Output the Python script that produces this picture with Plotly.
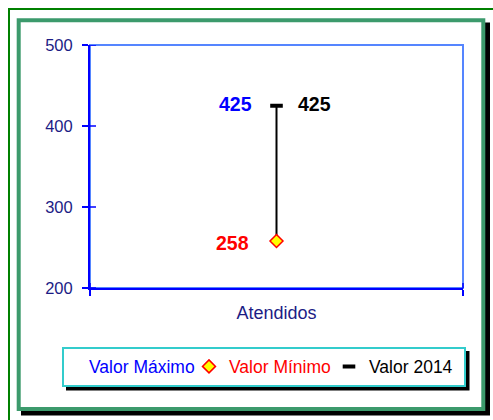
import plotly.graph_objects as go

# ---- data ----
categories = ["Atendidos"]
valor_maximo = [425]
valor_minimo = [258]
valor_2014 = [425]
y_ticks = [200, 300, 400, 500]

W, H = 493, 420
ML, MR, MT, MB = 90, 30, 45, 132
PW, PH = W - ML - MR, H - MT - MB

def px(x):
    return (x - ML) / PW

def py(y):
    return (H - MB - y) / PH

FONT = "Liberation Sans, Arial, sans-serif"
NAVY = "#1c1c85"
BLUE = "#0000ff"

fig = go.Figure()

# high-low line
fig.add_trace(go.Scatter(
    x=categories * 2, y=[valor_minimo[0], valor_maximo[0]],
    mode="lines", line=dict(color="black", width=2),
    showlegend=False, hoverinfo="skip"))

fig.add_trace(go.Scatter(
    x=categories, y=valor_maximo, mode="markers",
    name="<span style='color:#0000ff'>Valor Máximo</span>",
    legendwidth=110,
    marker=dict(size=9, color="rgba(0,0,0,0)")))

fig.add_trace(go.Scatter(
    x=categories, y=valor_minimo, mode="markers",
    name="<span style='color:#ff0000'>Valor Mínimo</span>",
    legendwidth=110,
    marker=dict(symbol="diamond", size=10, color="#ffff00",
                line=dict(color="#ff0000", width=1.5))))

fig.add_trace(go.Scatter(
    x=categories, y=valor_2014, mode="markers",
    name="<span style='color:#000000'>Valor 2014</span>",
    legendwidth=90,
    marker=dict(symbol="line-ew", size=9,
                line=dict(color="black", width=4))))

# data labels
lab_font = dict(family=FONT, size=19.5)
fig.add_annotation(x=categories[0], y=valor_maximo[0], text=f"<b>{valor_maximo[0]}</b>",
                   showarrow=False, xanchor="right", yanchor="middle", xshift=-23, yshift=2,
                   font=dict(lab_font, color="#0000ff"))
fig.add_annotation(x=categories[0], y=valor_minimo[0], text=f"<b>{valor_minimo[0]}</b>",
                   showarrow=False, xanchor="right", yanchor="middle", xshift=-26, yshift=-2,
                   font=dict(lab_font, color="#ff0000"))
fig.add_annotation(x=categories[0], y=valor_2014[0], text=f"<b>{valor_2014[0]}</b>",
                   showarrow=False, xanchor="left", yanchor="middle", xshift=19, yshift=2,
                   font=dict(lab_font, color="#000000"))

shapes = [
    # outer dark green frame
    dict(type="rect", xref="paper", yref="paper", layer="below",
         x0=px(9), x1=px(520), y0=py(9), y1=py(440),
         line=dict(color="#008000", width=2), fillcolor="rgba(0,0,0,0)"),
    # black shadow of inner frame
    dict(type="rect", xref="paper", yref="paper", layer="below",
         x0=px(21), x1=px(490), y0=py(22.5), y1=py(415.5),
         line=dict(width=0), fillcolor="black"),
    # inner sea-green frame
    dict(type="rect", xref="paper", yref="paper", layer="below",
         x0=px(18.7), x1=px(483.3), y0=py(20.3), y1=py(409),
         line=dict(color="#3c9a6c", width=4), fillcolor="white"),
    # plot area border (top/right light blue)
    dict(type="rect", xref="paper", yref="paper", layer="below",
         x0=0, x1=1, y0=0, y1=1,
         line=dict(color="#5585ff", width=2), fillcolor="rgba(0,0,0,0)"),
    # legend shadow
    dict(type="rect", xref="paper", yref="paper", layer="below",
         x0=px(66), x1=px(469.5), y0=py(351), y1=py(390.5),
         line=dict(width=0), fillcolor="black"),
]

# inside halves of the crossing tick marks (positioned via the axes' own scales)
for t in y_ticks:
    shapes.append(dict(type="line", xref="x domain", yref="y", xsizemode="pixel",
                       xanchor=0, x0=0, x1=6, y0=t, y1=t, layer="above",
                       line=dict(color=BLUE, width=1.5)))
for edge in (0, 1):
    shapes.append(dict(type="line", xref="x domain", yref="y domain", ysizemode="pixel",
                       yanchor=0, y0=0, y1=5, x0=edge, x1=edge, layer="above",
                       line=dict(color=BLUE, width=1.5)))

fig.update_layout(
    width=W, height=H, autosize=False,
    margin=dict(l=ML, r=MR, t=MT, b=MB, pad=0),
    paper_bgcolor="white", plot_bgcolor="rgba(0,0,0,0)",
    font=dict(family=FONT, color=NAVY),
    shapes=shapes,
    showlegend=True,
    legend=dict(orientation="h", x=px(62), y=py(346.5), xanchor="left", yanchor="top",
                bgcolor="white", bordercolor="#33cccc", borderwidth=2,
                font=dict(family=FONT, size=17.5), indentation=-15,
                itemclick=False),
    xaxis=dict(type="category", categoryarray=categories, range=[-0.5, 0.5],
               tickson="boundaries", ticks="outside", ticklen=6, tickwidth=1.5,
               tickcolor=BLUE, showline=True, linecolor=BLUE, linewidth=2,
               showgrid=False, zeroline=False, fixedrange=True,
               tickfont=dict(family=FONT, size=18, color=NAVY), ticklabelstandoff=7),
    yaxis=dict(range=[200, 500], tickvals=y_ticks, ticks="outside", ticklen=6,
               tickwidth=1.5, tickcolor=BLUE, showline=True, linecolor=BLUE,
               linewidth=2, showgrid=False, zeroline=False, fixedrange=True,
               tickfont=dict(family=FONT, size=16.5, color=NAVY), ticklabelstandoff=6),
)

fig.write_html("out.html", config={"displayModeBar": False},
               post_script="document.body.style.margin='0';")
